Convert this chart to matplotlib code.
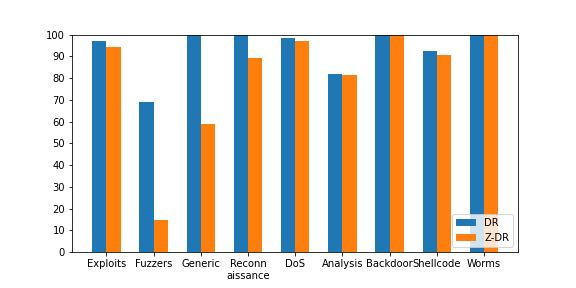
import matplotlib
matplotlib.use("Agg")
import matplotlib.pyplot as plt
import numpy as np

categories = ["Exploits", "Fuzzers", "Generic", "Reconn\naissance", "DoS",
              "Analysis", "Backdoor", "Shellcode", "Worms"]
dr = [97.2, 69.1, 100, 100, 98.6, 82.0, 100, 92.6, 100]
zdr = [94.5, 14.7, 59.0, 89.4, 97.2, 81.5, 100, 90.8, 100]

fig, ax = plt.subplots(figsize=(8, 4), dpi=72)
fig.subplots_adjust(bottom=0.125)
x = np.arange(len(categories))
w = 0.3
ax.bar(x - w / 2, dr, w, label="DR")
ax.bar(x + w / 2, zdr, w, label="Z-DR")
ax.set_xticks(x)
ax.set_xticklabels(categories)
ax.set_ylim(0, 100)
ax.set_yticks(np.arange(0, 101, 10))
ax.legend(loc="lower right")
fig.savefig("out.png", dpi=72)
